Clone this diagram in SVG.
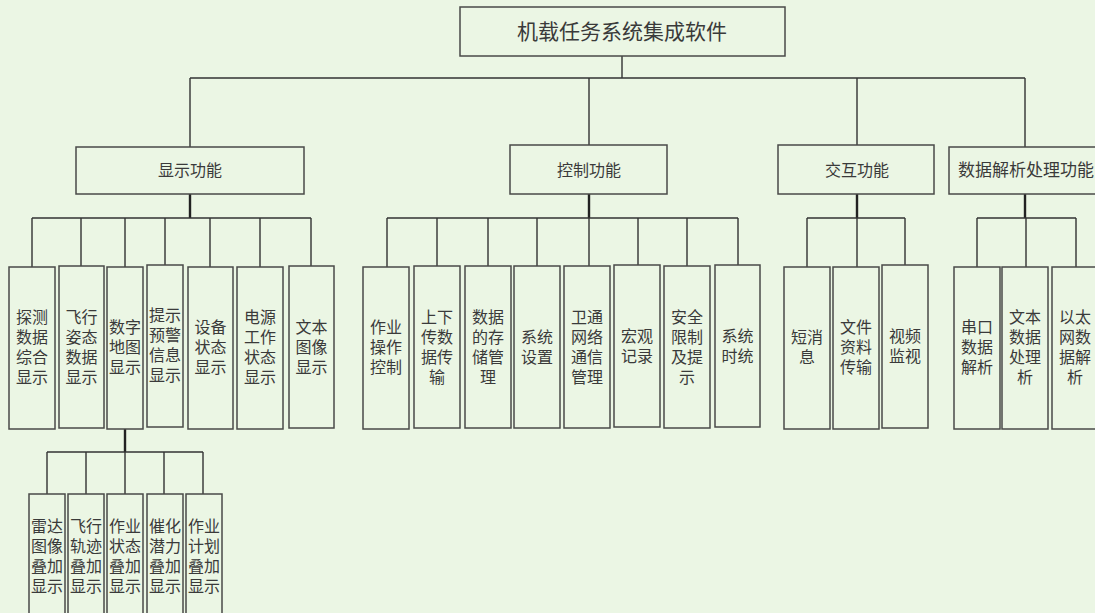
<svg xmlns="http://www.w3.org/2000/svg" width="1095" height="613" viewBox="0 0 1095 613">
<style>
.bx{fill:#ebf6e4;stroke:#4a4a48;stroke-width:1.5}
.t{font-family:"Liberation Serif","Noto Sans CJK SC","Noto Sans CJK JP",serif;font-size:16px;fill:#3a3a3a;text-anchor:middle;dominant-baseline:central}
.ln{stroke:#333;stroke-width:1.4;fill:none}
.tk{stroke:#222;stroke-width:2.4;fill:none}
</style>
<rect x="0" y="0" width="1095" height="613" fill="#ebf6e4"/>
<g id="connectors">
<path class="ln" d="M622 56V78M190 78H1025M190 78V147M589 78V145M857 78V145M1025 78V147"/>
<path class="tk" d="M190 194V218M589 194V218M857 194V218M1025 194V218M125 429V452"/>
<path class="ln" d="M32 218H311M32 218V267M81 218V266M125 218V267M165 218V265M210 218V267M260 218V267M311 218V266"/>
<path class="ln" d="M387 218H738M387 218V267M437 218V266M488 218V266M537 218V266M589 218V266M638 218V265M687 218V266M738 218V265"/>
<path class="ln" d="M807 218H905M807 218V267M857 218V267M905 218V265"/>
<path class="ln" d="M977 218H1076M977 218V267M1026 218V267M1076 218V267"/>
<path class="ln" d="M47 452H203M47 452V494M86 452V494M125 452V494M164 452V494M203 452V494"/>
</g>
<g id="root"><rect class="bx" x="460" y="7" width="325" height="49"/><text class="t" x="622" y="32" style="font-size:21px">机载任务系统集成软件</text></g>
<g id="display"><rect class="bx" x="76" y="147" width="228" height="47"/><text class="t" x="190" y="170">显示功能</text></g>
<g id="control"><rect class="bx" x="510" y="145" width="157" height="49"/><text class="t" x="589" y="170">控制功能</text></g>
<g id="interact"><rect class="bx" x="778" y="145" width="156" height="49"/><text class="t" x="857" y="170">交互功能</text></g>
<g id="dataproc"><rect class="bx" x="949" y="147" width="160" height="47"/><text class="t" x="958" y="170" style="font-size:17px;text-anchor:start">数据解析处理功能</text></g>

<g id="d1"><rect class="bx" x="9" y="267" width="46" height="162"/><text class="t"><tspan x="32" y="317">探测</tspan><tspan x="32" y="337">数据</tspan><tspan x="32" y="357">综合</tspan><tspan x="32" y="377">显示</tspan></text></g>
<g id="d2"><rect class="bx" x="59" y="266" width="45" height="162"/><text class="t"><tspan x="81.5" y="317">飞行</tspan><tspan x="81.5" y="337">姿态</tspan><tspan x="81.5" y="357">数据</tspan><tspan x="81.5" y="377">显示</tspan></text></g>
<g id="d3"><rect class="bx" x="107" y="267" width="36" height="162"/><text class="t"><tspan x="125" y="327">数字</tspan><tspan x="125" y="347">地图</tspan><tspan x="125" y="367">显示</tspan></text></g>
<g id="d4"><rect class="bx" x="147" y="265" width="36" height="162"/><text class="t"><tspan x="165" y="315">提示</tspan><tspan x="165" y="335">预警</tspan><tspan x="165" y="355">信息</tspan><tspan x="165" y="375">显示</tspan></text></g>
<g id="d5"><rect class="bx" x="188" y="267" width="45" height="162"/><text class="t"><tspan x="210.5" y="327">设备</tspan><tspan x="210.5" y="347">状态</tspan><tspan x="210.5" y="367">显示</tspan></text></g>
<g id="d6"><rect class="bx" x="237" y="267" width="46" height="162"/><text class="t"><tspan x="260" y="317">电源</tspan><tspan x="260" y="337">工作</tspan><tspan x="260" y="357">状态</tspan><tspan x="260" y="377">显示</tspan></text></g>
<g id="d7"><rect class="bx" x="289" y="266" width="45" height="162"/><text class="t"><tspan x="311.5" y="327">文本</tspan><tspan x="311.5" y="347">图像</tspan><tspan x="311.5" y="367">显示</tspan></text></g>

<g id="c1"><rect class="bx" x="363" y="267" width="46" height="162"/><text class="t"><tspan x="386" y="327">作业</tspan><tspan x="386" y="347">操作</tspan><tspan x="386" y="367">控制</tspan></text></g>
<g id="c2"><rect class="bx" x="414" y="266" width="46" height="162"/><text class="t"><tspan x="437" y="317">上下</tspan><tspan x="437" y="337">传数</tspan><tspan x="437" y="357">据传</tspan><tspan x="437" y="377">输</tspan></text></g>
<g id="c3"><rect class="bx" x="465" y="266" width="46" height="162"/><text class="t"><tspan x="488" y="317">数据</tspan><tspan x="488" y="337">的存</tspan><tspan x="488" y="357">储管</tspan><tspan x="488" y="377">理</tspan></text></g>
<g id="c4"><rect class="bx" x="514" y="266" width="46" height="162"/><text class="t"><tspan x="537" y="337">系统</tspan><tspan x="537" y="357">设置</tspan></text></g>
<g id="c5"><rect class="bx" x="564" y="266" width="46" height="162"/><text class="t"><tspan x="587" y="317">卫通</tspan><tspan x="587" y="337">网络</tspan><tspan x="587" y="357">通信</tspan><tspan x="587" y="377">管理</tspan></text></g>
<g id="c6"><rect class="bx" x="614" y="265" width="46" height="162"/><text class="t"><tspan x="637" y="336">宏观</tspan><tspan x="637" y="356">记录</tspan></text></g>
<g id="c7"><rect class="bx" x="664" y="266" width="46" height="162"/><text class="t"><tspan x="687" y="317">安全</tspan><tspan x="687" y="337">限制</tspan><tspan x="687" y="357">及提</tspan><tspan x="687" y="377">示</tspan></text></g>
<g id="c8"><rect class="bx" x="715" y="265" width="45" height="162"/><text class="t"><tspan x="737.5" y="336">系统</tspan><tspan x="737.5" y="356">时统</tspan></text></g>

<g id="i1"><rect class="bx" x="784" y="267" width="46" height="162"/><text class="t"><tspan x="807" y="337">短消</tspan><tspan x="807" y="357">息</tspan></text></g>
<g id="i2"><rect class="bx" x="833" y="267" width="46" height="162"/><text class="t"><tspan x="856" y="327">文件</tspan><tspan x="856" y="347">资料</tspan><tspan x="856" y="367">传输</tspan></text></g>
<g id="i3"><rect class="bx" x="882" y="265" width="46" height="163"/><text class="t"><tspan x="905" y="336">视频</tspan><tspan x="905" y="356">监视</tspan></text></g>

<g id="p1"><rect class="bx" x="954" y="267" width="46" height="162"/><text class="t"><tspan x="977" y="327">串口</tspan><tspan x="977" y="347">数据</tspan><tspan x="977" y="367">解析</tspan></text></g>
<g id="p2"><rect class="bx" x="1002" y="267" width="46" height="162"/><text class="t"><tspan x="1025" y="317">文本</tspan><tspan x="1025" y="337">数据</tspan><tspan x="1025" y="357">处理</tspan><tspan x="1025" y="377">析</tspan></text></g>
<g id="p3"><rect class="bx" x="1052" y="267" width="46" height="162"/><text class="t"><tspan x="1075" y="317">以太</tspan><tspan x="1075" y="337">网数</tspan><tspan x="1075" y="357">据解</tspan><tspan x="1075" y="377">析</tspan></text></g>

<g id="m1"><rect class="bx" x="29" y="494" width="36" height="140"/><text class="t"><tspan x="47" y="526">雷达</tspan><tspan x="47" y="546">图像</tspan><tspan x="47" y="566">叠加</tspan><tspan x="47" y="586">显示</tspan></text></g>
<g id="m2"><rect class="bx" x="68" y="494" width="36" height="140"/><text class="t"><tspan x="86" y="526">飞行</tspan><tspan x="86" y="546">轨迹</tspan><tspan x="86" y="566">叠加</tspan><tspan x="86" y="586">显示</tspan></text></g>
<g id="m3"><rect class="bx" x="107" y="494" width="36" height="140"/><text class="t"><tspan x="125" y="526">作业</tspan><tspan x="125" y="546">状态</tspan><tspan x="125" y="566">叠加</tspan><tspan x="125" y="586">显示</tspan></text></g>
<g id="m4"><rect class="bx" x="147" y="494" width="36" height="140"/><text class="t"><tspan x="165" y="526">催化</tspan><tspan x="165" y="546">潜力</tspan><tspan x="165" y="566">叠加</tspan><tspan x="165" y="586">显示</tspan></text></g>
<g id="m5"><rect class="bx" x="186" y="494" width="36" height="140"/><text class="t"><tspan x="204" y="526">作业</tspan><tspan x="204" y="546">计划</tspan><tspan x="204" y="566">叠加</tspan><tspan x="204" y="586">显示</tspan></text></g>
</svg>
